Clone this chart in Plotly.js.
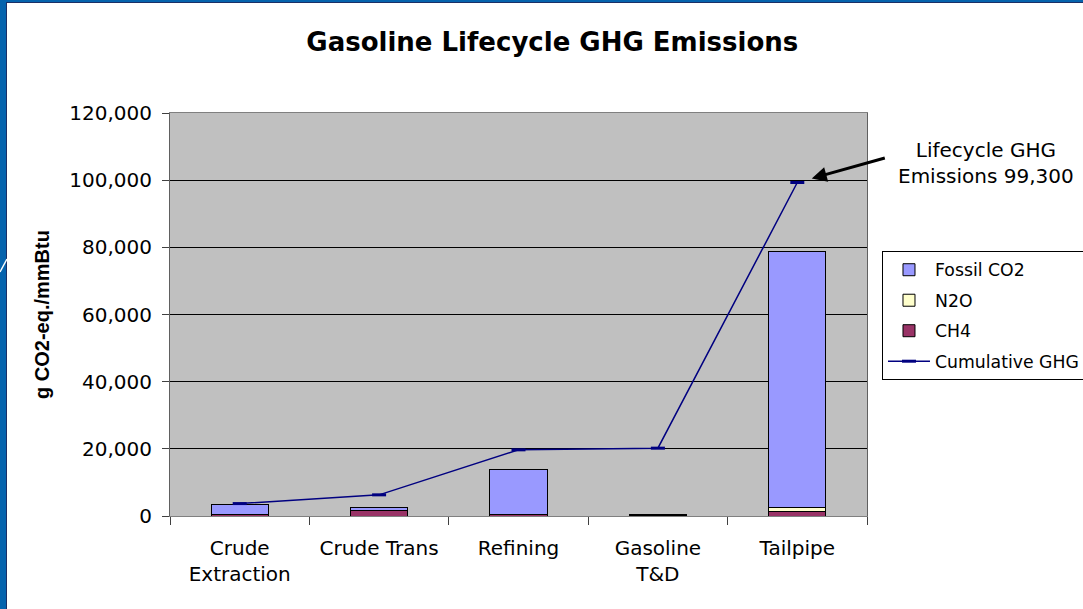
<!DOCTYPE html>
<html>
<head>
<meta charset="utf-8">
<script src="https://cdn.plot.ly/plotly-3.0.1.min.js"></script>
<style>
  html, body { margin: 0; padding: 0; background: #ffffff; overflow: hidden; }
  #wrap { position: relative; width: 1083px; height: 609px; }
  #chart { position: absolute; left: 0; top: 0; width: 1083px; height: 609px; }
  .frame { position: absolute; pointer-events: none; }
</style>
</head>
<body>
<div id="wrap">
  <div id="chart"></div>
  <div class="frame" style="left:0;top:0;width:6px;height:609px;background:#0563AD;"></div>
  <div class="frame" style="left:6px;top:0;width:1px;height:609px;background:#1b2f66;"></div>
  <div class="frame" style="left:0;top:0;width:1083px;height:2px;background:#0563AD;"></div>
  <div class="frame" style="left:7px;top:2px;width:1076px;height:1px;background:#1b2f66;"></div>
  <svg class="frame" style="left:0;top:240px;" width="14" height="40">
    <line x1="0" y1="32" x2="7" y2="19" stroke="#ffffff" stroke-width="1.5"/>
  </svg>
</div>
<script>
// ---- data ----
const categories = ['Crude<br>Extraction', 'Crude Trans', 'Refining', 'Gasoline<br>T&D', 'Tailpipe'];
const ch4Values = [300, 1700, 300, 80, 1200];
const n2oValues = [30, 50, 50, 20, 1200];
const fossilCo2Values = [3200, 800, 13600, 400, 76500];
const cumulativeValues = [3700, 6300, 19700, 20200, 99300];
const yTickValues = [0, 20000, 40000, 60000, 80000, 100000, 120000];
const calloutText = 'Lifecycle GHG<br>Emissions 99,300';

const FONT = 'DejaVu Sans, Liberation Sans, Arial, sans-serif';
const barLine = { color: '#000000', width: 1 };

const traces = [
  { type: 'bar', name: 'CH4', x: categories, y: ch4Values,
    marker: { color: '#993366', line: barLine }, legendrank: 3, legendgroup: 'c' },
  { type: 'bar', name: 'N2O', x: categories, y: n2oValues,
    marker: { color: '#FFFFCC', line: barLine }, legendrank: 2, legendgroup: 'b' },
  { type: 'bar', name: 'Fossil CO2', x: categories, y: fossilCo2Values,
    marker: { color: '#9999FF', line: barLine }, legendrank: 1, legendgroup: 'a' },
  { type: 'scatter', mode: 'lines+markers', name: 'Cumulative GHG', x: categories, y: cumulativeValues,
    line: { color: '#000080', width: 1.5 },
    marker: { symbol: 'line-ew', size: 10, line: { color: '#000080', width: 3 } },
    legendrank: 4, legendgroup: 'd' }
];

const layout = {
  width: 1083, height: 609,
  paper_bgcolor: '#ffffff',
  plot_bgcolor: '#C0C0C0',
  margin: { l: 170, r: 216, t: 113, b: 93, autoexpand: false },
  barmode: 'stack',
  bargap: 0.59,
  font: { family: FONT, size: 20, color: '#000000' },
  title: {
    text: '<b>Gasoline Lifecycle GHG Emissions</b>',
    font: { family: FONT, size: 26, color: '#000000' },
    xref: 'container', yref: 'container', x: 0.51, y: 0.931, xanchor: 'center', yanchor: 'middle'
  },
  xaxis: {
    type: 'category',
    range: [-0.5, categories.length - 0.5],
    showgrid: false,
    showline: true, linecolor: '#808080', linewidth: 1, mirror: true,
    ticks: 'outside', tickson: 'boundaries', ticklen: 8, tickcolor: '#404040',
    tickfont: { family: FONT, size: 20, color: '#000000' },
    ticklabelstandoff: 14
  },
  yaxis: {
    range: [0, 120000],
    tickvals: yTickValues,
    tickformat: ',d',
    showgrid: true, gridcolor: '#000000', gridwidth: 1,
    zeroline: false,
    showline: true, linecolor: '#606060', linewidth: 1, mirror: true,
    ticks: 'outside', ticklen: 7, tickcolor: '#404040',
    tickfont: { family: FONT, size: 20, color: '#000000' },
    ticklabelstandoff: 6,
    title: { text: '<b>g CO2-eq./mmBtu</b>',
             font: { family: 'Liberation Sans, Arial, sans-serif', size: 20, color: '#000000' },
             standoff: 14 }
  },
  showlegend: true,
  legend: {
    x: 1.0215, y: 0.6576, xanchor: 'left', yanchor: 'top',
    xref: 'paper', yref: 'paper',
    bgcolor: '#ffffff', bordercolor: '#000000', borderwidth: 1,
    traceorder: 'grouped', tracegroupgap: 5,
    itemwidth: 42,
    font: { family: FONT, size: 17.3, color: '#000000' }
  },
  annotations: [
    { x: categories[4], y: cumulativeValues[4], xref: 'x', yref: 'y',
      text: '', showarrow: true, ax: 89, ay: -25, standoff: 15,
      arrowhead: 2, arrowsize: 1, arrowwidth: 3, arrowcolor: '#000000' },
    { x: 1.1707, y: 0.877, xref: 'paper', yref: 'paper', xanchor: 'center', yanchor: 'middle',
      text: calloutText, showarrow: false, align: 'center',
      font: { family: FONT, size: 20, color: '#000000' } }
  ]
};

Plotly.newPlot('chart', traces, layout, { displayModeBar: false, staticPlot: true });
</script>
</body>
</html>
